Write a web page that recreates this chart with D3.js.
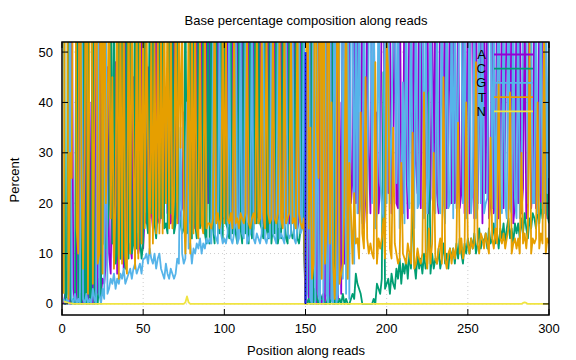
<!DOCTYPE html>
<html>
<head>
<meta charset="utf-8">
<script src="https://cdn.jsdelivr.net/npm/d3@7"></script>
<style>
    body { margin: 0; background: #fff; }
    text { font-family: "Liberation Sans", Arial, sans-serif; }
</style>
</head>
<body>
<div id="chart"></div>
<script>
// base composition (percent) per read position 1..300
var baseA = [
    0,2,1,1,0,70,3,0,1,85, 0,2,0,66,1,0,40,2,0,58, 1,3,80,2,5,4,8,47,10,6,
    30,8,48,6,18,9,44,7,62,12, 10,12,9,45,11,14,10,12,52,11, 18,16,47,17,19,15,21,62,17,16,
    19,17,20,43,18,21,16,18,64,17, 20,16,18,19,38,17,22,16,18,21, 18,15,62,20,17,59,19,16,64,20,
    63,17,16,18,18,58,17,16,17,17, 17,59,18,16,63,15,17,65,18,16, 62,17,16,18,64,15,17,60,16,18,
    17,61,16,18,15,17,59,16,18,15, 63,16,17,18,60,17,18,16,62,16, 16,17,61,18,15,17,58,16,16,0,
    0,1,60,0,2,1,0,70,1,0, 2,0,80,1,0,55,0,2,75,1, 40,2,85,8,30,15,70,20,25,68,
    20,65,18,25,70,15,22,60,30,18, 65,62,20,38,18,24,62,70,16,58, 22,60,18,25,66,20,19,72,24,18,
    68,30,17,62,64,19,70,28,22,64, 19,63,20,24,68,18,21,57,23,66, 22,18,64,60,25,70,19,33,61,20,
    67,20,24,60,19,22,66,18,25,62, 18,64,60,17,68,20,36,59,16,66, 22,61,17,20,65,18,21,63,17,23,
    64,19,34,60,58,24,66,16,20,62, 20,67,18,23,61,17,22,65,19,24, 62,19,23,58,18,60,64,20,17,25
];
var baseC = [
    90,0,2,95,2,0,1,0,80,0, 2,0,88,1,0,93,0,1,90,0, 2,0,5,1,85,12,11,15,20,70,
    12,65,8,10,70,9,58,11,7,72, 9,60,10,12,68,11,62,13,9,12, 58,17,14,62,18,65,16,13,19,60,
    17,63,15,16,14,59,18,61,14,16, 55,18,16,14,15,64,14,17,60,13, 59,16,13,57,15,17,62,14,12,61,
    12,62,15,12,60,16,14,58,13,57, 16,15,13,60,14,16,14,12,61,15, 12,63,14,16,12,62,13,15,64,16,
    59,16,15,13,64,15,13,60,12,16, 14,61,12,15,13,63,16,13,12,60, 15,13,14,62,13,12,15,63,13,0,
    0,1,0,90,0,3,1,0,2,1, 1,0,0,2,0,1,90,0,1,0, 1,0,2,0,1,0,0,1,2,1,
    6,4,3,2,0,0,0,0,0,0, 0,1,0,4,3,2,5,46,3,4, 5,2,6,4,3,7,5,9,4,8,
    6,9,5,10,7,22,8,5,10,7, 9,6,10,7,8,42,6,10,7,9, 8,11,7,9,12,8,10,7,11,9,
    11,8,12,9,13,10,8,12,10,13, 10,13,11,14,10,12,15,11,13,12, 14,11,15,12,13,16,12,14,11,15,
    13,16,12,15,17,13,15,12,16,14, 16,13,17,14,18,15,13,17,15,18, 17,15,19,16,20,17,21,45,18,16
];
var baseG = [
    1,0,1,0,65,1,0,2,0,1, 0,72,1,0,2,0,1,0,3,1, 0,88,2,0,3,1,60,2,3,5,
    4,6,3,5,4,6,5,7,4,5, 6,7,5,7,8,6,7,8,6,9, 9,10,8,11,9,8,10,7,9,10,
    7,6,5,8,6,5,7,6,5,6, 9,8,35,10,8,9,40,11,12,8, 11,10,12,11,13,10,12,11,13,12,
    13,12,52,14,13,12,55,14,12,13, 12,14,58,13,12,14,60,12,13,57, 14,13,56,12,13,14,61,13,12,14,
    13,12,14,58,13,12,14,13,62,14, 13,12,59,13,14,13,12,60,14,13, 14,60,13,12,15,59,14,15,62,0,
    2,80,1,0,88,0,60,2,0,92, 0,90,2,0,85,1,0,95,0,2, 55,90,5,70,2,80,1,60,65,8,
    62,18,70,20,16,68,25,18,55,70, 20,68,15,18,66,25,20,17,72,20, 64,20,35,60,58,24,70,15,20,44,
    16,65,24,19,62,20,15,68,19,20, 66,64,17,60,18,25,64,38,19,18, 62,20,18,65,21,16,68,19,20,63,
    17,64,19,42,66,60,20,63,17,21, 65,18,23,62,17,19,64,20,60,18, 20,21,66,62,19,62,15,40,64,19,
    18,63,20,17,65,19,18,64,21,17, 62,17,21,60,64,66,20,45,63,20, 20,65,18,22,66,19,18,63,22,60
];
var baseT = [
    2,95,94,1,30,25,92,95,15,10, 95,25,7,30,94,2,55,95,4,38, 95,8,10,95,6,80,20,35,65,17,
    45,7,20,66,5,59,8,61,9,6, 63,10,62,30,7,59,9,56,12,60, 15,57,31,10,54,12,53,14,55,14,
    57,14,60,20,62,15,59,15,21,61, 16,58,31,57,19,10,24,56,10,58, 14,59,15,13,55,16,14,59,15,16,
    16,15,17,62,16,18,15,17,58,16, 55,17,16,18,15,58,16,17,15,18, 17,16,18,57,16,15,17,18,16,55,
    16,17,56,18,15,57,18,16,17,58, 17,16,18,56,17,15,57,16,17,18, 57,16,17,15,58,18,16,15,17,0,
    95,15,35,5,8,92,35,25,95,5, 95,8,15,95,12,40,8,1,20,95, 4,6,8,20,65,5,28,18,8,22,
    12,13,9,38,14,11,45,13,10,12, 10,9,48,8,13,11,13,17,9,52, 46,11,9,35,12,10,8,9,28,10,
    9,8,12,10,8,34,7,8,11,9, 8,10,42,10,7,15,8,12,30,9, 8,11,13,8,45,9,7,10,11,8,
    11,9,12,36,10,13,9,11,40,12, 10,13,11,12,48,12,10,14,13,11, 14,12,10,33,13,11,15,12,44,13,
    12,14,11,13,15,42,10,12,13,11, 13,10,30,12,14,11,15,52,10,13, 12,13,40,11,14,12,55,10,13,12
];
var baseN = [
    0.5,0.4,0.3,0.2,0.1,0.1,0,0,0,0,0,0,0,0,0,0,0,0,0,0,0,0,0,0,0,
    0,0,0,0,0,0,0,0,0,0,0,0,0,0,0,0,0,0,0,0,0,0,0,0,0,
    0,0,0,0,0,0,0,0,0,0,0,0,0,0,0,0,0,0,0,0,0,0,0,0,0,
    0.3,1.5,0.3,0,0,0,0,0,0,0,0,0,0,0,0,0,0,0,0,0,0,0,0,0,0,
    0,0,0,0,0,0,0,0,0,0,0,0,0,0,0,0,0,0,0,0,0,0,0,0,0,
    0,0,0,0,0,0,0,0,0,0,0,0,0,0,0,0,0,0,0,0,0,0,0,0,0,
    0,0,0,0,0,0,0,0,0,0,0,0,0,0,0,0,0,0,0,0,0,0,0,0,0,
    0,0,0,0,0,0,0,0,0,0,0,0,0,0,0,0,0,0,0,0,0,0,0,0,0,
    0,0,0,0,0,0,0,0,0,0,0,0,0,0,0,0,0,0,0,0,0,0,0,0,0,
    0,0,0,0,0,0,0,0,0,0,0,0,0,0,0,0,0,0,0,0,0,0,0,0,0,
    0,0,0,0,0,0,0,0,0,0,0,0,0,0,0,0,0,0,0,0,0,0,0,0,0,
    0,0,0,0,0,0,0,0,0.2,0.3,0.2,0,0,0,0,0,0,0,0,0,0,0,0,0,0
];
var bases = ["A", "C", "G", "T", "N"];
var colors = ["#9400d3", "#009e73", "#56b4e9", "#e69f00", "#f0e442"];
var xTicks = [0, 50, 100, 150, 200, 250, 300];
var yTicks = [0, 10, 20, 30, 40, 50];
var readSplit = 150; // boundary between the two reads

var series = [baseA, baseC, baseG, baseT, baseN];
var positions = d3.range(1, baseA.length + 1);

var width = 576, height = 360;
var mLeft = 62, mRight = 549, mTop = 42, mBottom = 315;

var svg = d3.select("#chart").append("svg")
    .attr("width", width)
    .attr("height", height);

var x = d3.scaleLinear().domain([0, 300]).range([mLeft, mRight]);
var y = d3.scaleLinear().domain([-2.2, 52]).range([mBottom, mTop]);

// grid
svg.append("g").selectAll("line")
    .data(xTicks.slice(1, -1))
    .enter().append("line")
    .attr("x1", d => x(d)).attr("x2", d => x(d))
    .attr("y1", mTop).attr("y2", mBottom)
    .attr("stroke", "#cccccc").attr("stroke-dasharray", "1,3");
svg.append("g").selectAll("line")
    .data(yTicks)
    .enter().append("line")
    .attr("x1", mLeft).attr("x2", mRight)
    .attr("y1", d => y(d)).attr("y2", d => y(d))
    .attr("stroke", "#cccccc").attr("stroke-dasharray", "1,3");

svg.append("clipPath").attr("id", "clip")
    .append("rect")
    .attr("x", mLeft).attr("y", mTop)
    .attr("width", mRight - mLeft).attr("height", mBottom - mTop);

var line = d3.line()
    .x((d, i) => x(positions[i]))
    .y(d => y(d));

var plot = svg.append("g").attr("clip-path", "url(#clip)");
series.forEach(function(s, k) {
    plot.append("path")
        .attr("d", line(s))
        .attr("fill", "none")
        .attr("stroke", colors[k])
        .attr("stroke-width", 1.8)
        .attr("stroke-linejoin", "round");
});

// read boundary marker
plot.append("line")
    .attr("x1", x(readSplit)).attr("x2", x(readSplit))
    .attr("y1", y(0)).attr("y2", y(50))
    .attr("stroke", "#1a1aff")
    .attr("stroke-width", 2);
plot.append("line")
    .attr("x1", x(readSplit)).attr("x2", x(readSplit))
    .attr("y1", y(0)).attr("y2", y(50))
    .attr("stroke", "#000080")
    .attr("stroke-width", 1)
    .attr("stroke-dasharray", "1,3");

// legend
var legend = svg.append("g");
bases.forEach(function(b, k) {
    var ly = 54.5 + k * 14.2;
    legend.append("text")
        .attr("x", 486).attr("y", ly + 4.5)
        .attr("text-anchor", "end")
        .attr("font-size", "13px")
        .text(b);
    legend.append("line")
        .attr("x1", 494).attr("x2", 533)
        .attr("y1", ly).attr("y2", ly)
        .attr("stroke", colors[k])
        .attr("stroke-width", 1.8);
});

// border and ticks
svg.append("rect")
    .attr("x", mLeft).attr("y", mTop)
    .attr("width", mRight - mLeft).attr("height", mBottom - mTop)
    .attr("fill", "none").attr("stroke", "#000").attr("stroke-width", 1.5);

var ticks = svg.append("g").attr("stroke", "#000").attr("stroke-width", 1);
xTicks.forEach(function(t) {
    ticks.append("line").attr("x1", x(t)).attr("x2", x(t)).attr("y1", mBottom).attr("y2", mBottom - 6);
    ticks.append("line").attr("x1", x(t)).attr("x2", x(t)).attr("y1", mTop).attr("y2", mTop + 6);
});
yTicks.forEach(function(t) {
    ticks.append("line").attr("x1", mLeft).attr("x2", mLeft + 6).attr("y1", y(t)).attr("y2", y(t));
    ticks.append("line").attr("x1", mRight).attr("x2", mRight - 6).attr("y1", y(t)).attr("y2", y(t));
});

svg.append("g").selectAll("text")
    .data(xTicks)
    .enter().append("text")
    .attr("x", d => x(d)).attr("y", 333)
    .attr("text-anchor", "middle")
    .attr("font-size", "13px")
    .text(d => d);
svg.append("g").selectAll("text")
    .data(yTicks)
    .enter().append("text")
    .attr("x", 53).attr("y", d => y(d) + 4.5)
    .attr("text-anchor", "end")
    .attr("font-size", "13px")
    .text(d => d);

svg.append("text")
    .attr("x", 306).attr("y", 25)
    .attr("text-anchor", "middle")
    .attr("font-size", "13px")
    .text("Base percentage composition along reads");
svg.append("text")
    .attr("x", 306).attr("y", 355)
    .attr("text-anchor", "middle")
    .attr("font-size", "13px")
    .text("Position along reads");
svg.append("text")
    .attr("transform", "translate(19,180) rotate(-90)")
    .attr("text-anchor", "middle")
    .attr("font-size", "13px")
    .text("Percent");
</script>
</body>
</html>
